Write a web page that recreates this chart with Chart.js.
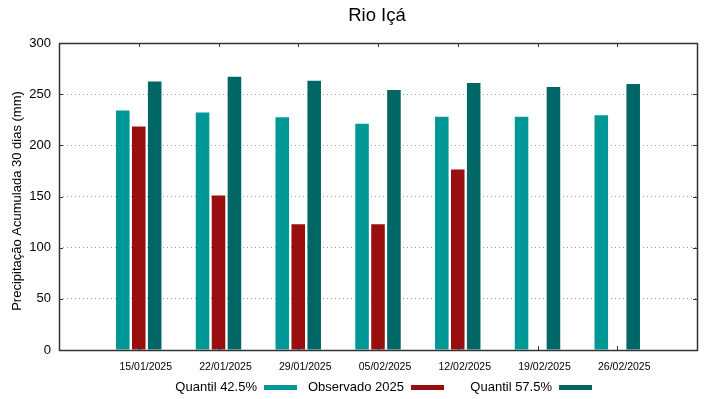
<!DOCTYPE html>
<html>
<head>
<meta charset="utf-8">
<script src="https://cdn.jsdelivr.net/npm/chart.js@4"></script>
<style>
  body { margin: 0; background: #fff; }
  canvas { display: block; }
</style>
</head>
<body>
<canvas id="myChart" width="719" height="399"></canvas>
<script>
// semanas
var datas = ['15/01/2025', '22/01/2025', '29/01/2025', '05/02/2025', '12/02/2025', '19/02/2025', '26/02/2025'];
var q425 = [234, 232, 227.5, 221, 228, 228, 229.5];
var obs2025 = [218.5, 151, 123, 123, 176.5, null, null];
var q575 = [262.5, 267, 263, 254, 261, 257, 260];
var yTicks = [0, 50, 100, 150, 200, 250, 300];

// one empty slot each side, like the original plot range
var labels = [''].concat(datas, ['']);
function pad(arr) { return [null].concat(arr, [null]); }

var FONT = 'Liberation Sans, Arial, sans-serif';

var frame = {
  id: 'frame',
  afterDraw: function(chart) {
    var c = chart.ctx, a = chart.chartArea;
    var ys = chart.scales.y, xs = chart.scales.x;
    c.save();
    c.strokeStyle = '#333';
    c.lineWidth = 1.5;
    c.strokeRect(Math.round(a.left) + 0.5, Math.round(a.top) + 0.5, Math.round(a.right - a.left), Math.round(a.bottom - a.top));
    // tick marks
    c.lineWidth = 1;
    c.beginPath();
    yTicks.forEach(function(v) {
      var y = Math.round(ys.getPixelForValue(v)) + 0.5;
      c.moveTo(a.left, y); c.lineTo(a.left + 4, y);
      c.moveTo(a.right - 4, y); c.lineTo(a.right, y);
    });
    for (var i = 1; i <= datas.length; i++) {
      var x = Math.round(xs.getPixelForValue(i)) + 0.5;
      c.moveTo(x, a.bottom); c.lineTo(x, a.bottom - 4);
      c.moveTo(x, a.top); c.lineTo(x, a.top + 4);
    }
    c.stroke();

    // title
    c.fillStyle = '#000';
    c.font = '18.5px ' + FONT;
    c.textAlign = 'center';
    c.textBaseline = 'middle';
    c.fillText('Rio Içá', 377, 16);

    // y title
    c.save();
    c.translate(17, 201);
    c.rotate(-Math.PI / 2);
    c.font = '13px ' + FONT;
    c.fillText('Precipitação Acumulada 30 dias (mm)', 0, 0);
    c.restore();

    // legend: text then sample, gnuplot style
    var leg = [[257, 264], [404, 411], [552, 559]];
    c.font = '13px ' + FONT;
    c.textAlign = 'right';
    chart.data.datasets.forEach(function(ds, k) {
      c.fillStyle = '#000';
      c.fillText(ds.label, leg[k][0], 387);
      c.fillStyle = ds.backgroundColor;
      c.fillRect(leg[k][1], 385, 33, 5);
    });
    c.restore();
  }
};

var ctx = document.getElementById('myChart').getContext('2d');
var myChart = new Chart(ctx, {
  type: 'bar',
  data: {
    labels: labels,
    datasets: [{
      label: 'Quantil 42.5%',
      data: pad(q425),
      backgroundColor: '#009896'
    }, {
      label: 'Observado 2025',
      data: pad(obs2025),
      backgroundColor: '#990e0e'
    }, {
      label: 'Quantil 57.5%',
      data: pad(q575),
      backgroundColor: '#006766'
    }]
  },
  options: {
    responsive: false,
    animation: false,
    categoryPercentage: 0.6,
    barPercentage: 0.85,
    layout: { padding: { top: 43, right: 22, left: 0, bottom: 0 } },
    plugins: { legend: { display: false }, title: { display: false }, tooltip: { enabled: false } },
    scales: {
      x: {
        offset: false,
        grid: { display: false, drawTicks: false },
        border: { display: false },
        ticks: { color: '#000', font: { family: FONT, size: 10.5 }, padding: 11, labelOffset: 7, maxRotation: 0, autoSkip: false },
        afterFit: function(s) { s.height = 49; }
      },
      y: {
        min: 0,
        max: 300,
        ticks: { stepSize: 50, color: '#000', font: { family: FONT, size: 13 }, padding: 8 },
        grid: {
          drawTicks: false,
          color: function(c) { return (c.tick && (c.tick.value === 0 || c.tick.value === 300)) ? 'rgba(0,0,0,0)' : '#999'; },
          lineWidth: 1
        },
        border: { display: false, dash: [1, 3] },
        afterFit: function(s) { s.width = 59; }
      }
    }
  },
  plugins: [frame]
});
</script>
</body>
</html>
